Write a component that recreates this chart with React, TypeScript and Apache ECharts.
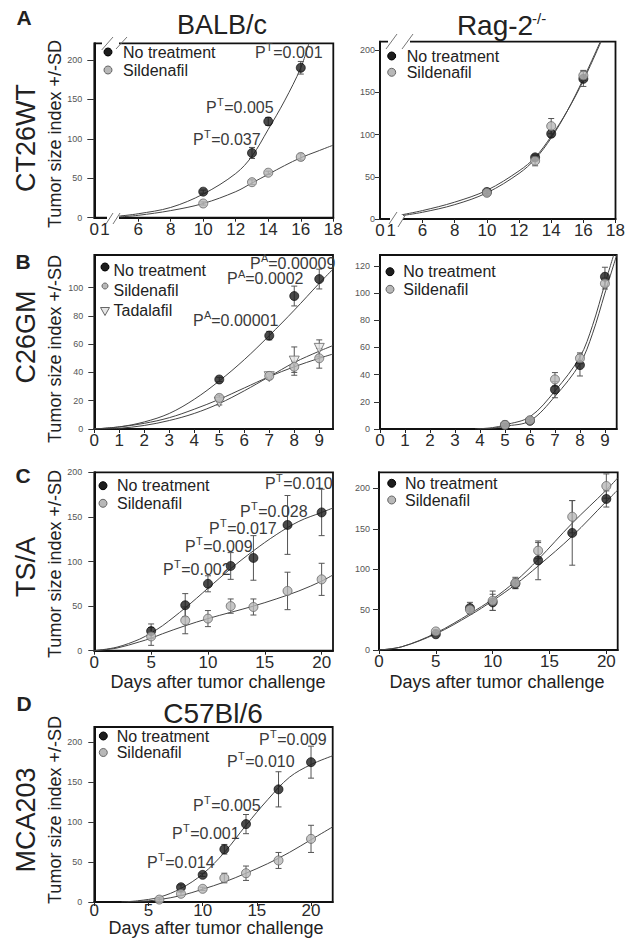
import React, { useEffect, useRef } from "react";
import * as echarts from "echarts";

const FONT = "'Liberation Sans', Arial, Helvetica, sans-serif";

/* ---------------- data ---------------- */
const groupNames = ["No treatment", "Sildenafil", "Tadalafil"];
const strainTitles = ["BALB/c", "Rag-2", "C57Bl/6"];
const tumorLines = ["CT26WT", "C26GM", "TS/A", "MCA203"];
const panelLetters = ["A", "B", "C", "D"];
const yTitle = "Tumor size index +/-SD";
const xTitle = "Days after tumor challenge";

/* Panel A: CT26WT */
const aDays = [10, 13, 14, 16];
const aBalbNoTreat = [33, 82, 122, 190];
const aBalbNoTreatSd = [2, 7, 5, 8];
const aBalbSild = [18, 45, 57, 77];
const aBalbSildSd = [2, 3, 2, 4];
const aBalbNoTreatFit = [[4.8, 2], [6, 5], [8, 13], [10, 30], [12, 56], [13, 78], [14, 112], [15, 148], [16, 190], [16.5, 221]];
const aBalbSildFit = [[4.9, 1], [6, 3], [8, 9], [10, 18], [12, 33], [13, 44], [14, 55], [15, 66], [16, 76], [17, 84], [18, 92]];
const aBalbP = ["0.001", "0.005", "0.037"];
const aRagNoTreat = [32, 73, 101, 166];
const aRagNoTreatSd = [2, 3, 4, 9];
const aRagSild = [31, 69, 110, 170];
const aRagSildSd = [3, 6, 9, 6];
const aRagFitA = [[4.7, 4], [6, 8], [8, 17], [10, 31], [12, 54], [13, 71], [14, 96], [15, 128], [16, 166], [17.1, 212]];
const aRagFitB = [[4.7, 5], [6, 10], [8, 20], [10, 34], [12, 57], [13, 73], [14, 98], [15, 128], [16, 164], [17.1, 210]];
const aXTicks = [6, 8, 10, 12, 14, 16, 18];
const aBreakLabels = ["0", "1"];
const aYTicks = [0, 50, 100, 150, 200];

/* Panel B: C26GM */
const bBalbDays = [5, 7, 8, 9];
const bBalbNoTreat = [35, 66, 94, 106];
const bBalbNoTreatSd = [1.5, 3, 7, 7];
const bBalbSild = [22, 37.5, 44, 50];
const bBalbSildSd = [2, 1.5, 4, 7];
const bBalbTad = [19, 37, 48, 57];
const bBalbTadSd = [2, 2, 10, 6];
const bBalbNoTreatFit = [[0, 0], [1, 1.5], [2, 5], [3, 11], [4, 21], [5, 34], [6, 49], [7, 66], [8, 84], [9, 103], [9.55, 113]];
const bBalbSildFit = [[0, 0], [1, 1.5], [2, 4], [3, 8], [4, 14], [5, 21], [6, 29], [7, 37], [8, 44], [9, 50], [9.55, 53]];
const bBalbTadFit = [[0, 0], [1, 0.5], [2, 2.5], [3, 6], [4, 11], [5, 18], [6, 27], [7, 37], [8, 47], [9, 55], [9.55, 59]];
const bBalbP = ["0.00009", "0.0002", "0.00001"];
const bRagDays = [5, 6, 7, 8, 9];
const bRagNoTreat = [3, 6, 29, 47, 112];
const bRagNoTreatSd = [1, 1, 6, 8, 7];
const bRagSild = [3, 6.5, 36.5, 52, 107];
const bRagSildSd = [1, 2, 5, 4, 4];
const bRagFitA = [[3.8, 0], [4.5, 1], [5, 3], [6, 9], [7, 28], [8, 53], [8.5, 76], [9, 107], [9.35, 128]];
const bRagFitB = [[3.9, 0], [4.5, 0.5], [5, 2], [6, 6], [7, 24], [8, 48], [8.5, 70], [9, 100], [9.47, 128]];
const bXTicks = [0, 1, 2, 3, 4, 5, 6, 7, 8, 9];
const bBalbYTicks = [0, 20, 40, 60, 80, 100];
const bRagYTicks = [0, 20, 40, 60, 80, 100, 120];

/* Panel C: TS/A */
const cDays = [5, 8, 10, 12, 14, 17, 20];
const cBalbNoTreat = [22, 51, 75, 95, 104, 141, 155];
const cBalbNoTreatSd = [8, 13, 9, 15, 25, 33, 26];
const cBalbSild = [16, 34, 36, 50, 49, 67, 80];
const cBalbSildSd = [10, 15, 9, 8, 9, 21, 18];
const cBalbNoTreatFit = [[0, 0], [2, 4], [4, 13], [5, 20], [6, 28], [8, 48], [10, 70], [12, 92], [14, 112], [16, 130], [18, 145], [20, 155], [21, 160]];
const cBalbSildFit = [[0, 0], [2, 3], [4, 10], [5, 14], [6, 19], [8, 28], [10, 36], [12, 43], [14, 50], [16, 58], [18, 67], [20, 78], [21, 85]];
const cBalbP = ["0.010", "0.028", "0.017", "0.009", "0.002"];
const cRagNoTreat = [19.5, 52, 59, 82, 111, 145, 187];
const cRagNoTreatSd = [2, 7, 10, 6, 24, 40, 10];
const cRagSild = [23, 50, 61, 83, 123, 165, 203];
const cRagSildSd = [2, 5, 12, 7, 10, 20, 15];
const cRagSildFit = [[0, 0], [2, 4], [5, 21], [8, 45], [10, 63], [12, 85], [14, 112], [17, 157], [20, 198], [21, 213]];
const cRagNoTreatFit = [[0, 0], [2, 4], [5, 20], [8, 43], [10, 61], [12, 81], [14, 104], [17, 141], [20, 184], [21, 198]];
const cXTicks = [0, 5, 10, 15, 20];
const cBalbYTicks = [0, 50, 100, 150, 200];
const cRagYTicks = [0, 50, 100, 150, 200];

/* Panel D: MCA203 */
const dNoTreatDays = [8, 10, 12, 14, 17, 20];
const dNoTreat = [18.5, 34, 66, 97.5, 141, 175];
const dNoTreatSd = [3, 2, 6, 12, 22, 20];
const dSildDays = [6, 8, 10, 12, 14, 17, 20];
const dSild = [3, 10.3, 16.5, 30, 36, 52, 79];
const dSildSd = [2, 2, 2, 6, 9, 10, 17];
const dNoTreatFit = [[2.5, 0], [4, 1.5], [6, 6], [8, 17], [10, 35], [12, 62], [14, 96], [16, 128], [18, 156], [20, 172], [22, 183]];
const dSildFit = [[3, 0], [5, 1.5], [6, 3], [8, 8], [10, 16], [12, 25], [14, 36], [16, 48], [18, 62], [20, 78], [22, 94]];
const dP = ["0.009", "0.010", "0.005", "0.001", "0.014"];
const dXTicks = [0, 5, 10, 15, 20];
const dYTicks = [0, 50, 100, 150, 200];

/* ---------------- helpers ---------------- */
const BLACK = { color: "#1d1d1d", borderColor: "#000", borderWidth: 0.8 };
const GRAY = { color: "#b8b8b8", borderColor: "#666", borderWidth: 1 };
const TRI = { color: "#e6e6e6", borderColor: "#666", borderWidth: 1 };

const pts = (xs: number[], ys: number[]) => xs.map((x, i) => [x, ys[i]]);
const bars = (xs: number[], ys: number[], sd: number[]) => xs.map((x, i) => [x, ys[i] - sd[i], ys[i] + sd[i]]);

function renderErr(_params: any, api: any) {
  const x = api.value(0);
  const lo = api.coord([x, api.value(1)]);
  const hi = api.coord([x, api.value(2)]);
  const w = 3;
  const st = { stroke: "#555", lineWidth: 1 };
  return {
    type: "group",
    children: [
      { type: "line", shape: { x1: lo[0], y1: lo[1], x2: hi[0], y2: hi[1] }, style: st },
      { type: "line", shape: { x1: lo[0] - w, y1: lo[1], x2: lo[0] + w, y2: lo[1] }, style: st },
      { type: "line", shape: { x1: hi[0] - w, y1: hi[1], x2: hi[0] + w, y2: hi[1] }, style: st },
    ],
  };
}

const fit = (i: number, data: number[][]) => ({
  type: "line", xAxisIndex: i, yAxisIndex: i, data, smooth: 0.35,
  showSymbol: false, symbol: "none", lineStyle: { color: "#444", width: 1 }, z: 2, silent: true, clip: true,
});
const err = (i: number, data: number[][]) => ({
  type: "custom", xAxisIndex: i, yAxisIndex: i, data, encode: { x: 0, y: [1, 2] },
  renderItem: renderErr, z: 3, silent: true,
});
const dots = (i: number, name: string, data: number[][], style: any, symbol = "circle", rotate = 0, size = 9) => ({
  type: "scatter", name, xAxisIndex: i, yAxisIndex: i, data, symbol, symbolRotate: rotate,
  symbolSize: size, itemStyle: style, z: 4, silent: true,
});

function xAx(i: number, min: number, max: number, labels: number[], ticks: number[], margin: number, fmt?: (v: number) => string) {
  return {
    gridIndex: i, type: "value", min, max,
    axisLine: { show: true, onZero: false, lineStyle: { color: "#111", width: 2 } },
    axisTick: { show: true, customValues: ticks, length: 4, lineStyle: { color: "#222", width: 1 } },
    axisLabel: { show: true, customValues: labels, formatter: fmt, fontSize: 17, lineHeight: 15, color: "#2a2a2a", fontFamily: FONT, margin },
    splitLine: { show: false },
  };
}
function yAx(i: number, max: number, ticks: number[], margin: number, tickLen: number) {
  return {
    gridIndex: i, type: "value", min: 0, max,
    axisLine: { show: true, lineStyle: { color: "#111", width: 2 } },
    axisTick: { show: true, customValues: ticks, length: tickLen, lineStyle: { color: "#333", width: 1 } },
    axisLabel: { show: true, customValues: ticks, fontSize: 9, color: "#555", fontFamily: FONT, margin },
    splitLine: { show: false },
  };
}

const txt = (x: number, y: number, text: string, size: number, extra: any = {}) => ({
  type: "text", x, y, z: 50, rotation: extra.rotation || 0,
  style: {
    text, fontSize: size, fontFamily: FONT, fill: extra.fill || "#222", fontWeight: extra.weight || "normal",
    lineHeight: Math.round(size * 0.85),
    align: extra.align || "center", verticalAlign: "middle",
  },
});
// "P" + raised small letter + "=value", laid out as three texts
const P_W = 16 * 0.667;
const SUP_W = 11 * 0.611;
const pText = (x: number, y: number, sup: string, val: string) => [
  txt(x, y, "P", 16, { align: "left", fill: "#3a3a3a" }),
  txt(x + P_W + 0.3, y - 5, sup, 11, { align: "left", fill: "#3a3a3a" }),
  txt(x + P_W + SUP_W + 0.8, y, "=" + val, 16, { align: "left", fill: "#3a3a3a" }),
];
function legendMark(cx: number, cy: number, kind: string, r = 4) {
  if (kind === "tri") {
    return { type: "polygon", z: 50, shape: { points: [[cx - 4.5, cy - 3.5], [cx + 4.5, cy - 3.5], [cx, cy + 4.5]] }, style: { fill: TRI.color, stroke: TRI.borderColor, lineWidth: 1 } };
  }
  const s = kind === "black" ? BLACK : GRAY;
  return { type: "circle", z: 50, shape: { cx, cy, r }, style: { fill: s.color, stroke: s.borderColor, lineWidth: 1 } };
}
const legendRow = (mx: number, my: number, tx: number, ty: number, kind: string, label: string, r = 4) => [
  legendMark(mx, my, kind, r),
  txt(tx, ty, label, 16, { align: "left" }),
];
const white = (x: number, y: number, w: number, h: number) => ({ type: "rect", z: 40, shape: { x, y, width: w, height: h }, style: { fill: "#fff" } });
const slash = (x1: number, y1: number, x2: number, y2: number) => ({ type: "line", z: 45, shape: { x1, y1, x2, y2 }, style: { stroke: "#777", lineWidth: 1 } });

/* ---------------- option ---------------- */
function buildOption() {
  const grids = [
    { left: 94.3, top: 43.3, width: 239, height: 174.4 },
    { left: 380, top: 41.7, width: 235.5, height: 177.3 },
    { left: 94.3, top: 255, width: 238.7, height: 174 },
    { left: 380, top: 255, width: 236.7, height: 174 },
    { left: 94.3, top: 472.3, width: 238.7, height: 178.4 },
    { left: 379, top: 472.3, width: 238.7, height: 177.7 },
    { left: 94.3, top: 727, width: 238.4, height: 175 },
  ].map((g) => ({ ...g, show: true, borderColor: "#111", borderWidth: 1.8, backgroundColor: "transparent", containLabel: false, outerBoundsMode: "none" }));

  const aFmtL = (v: number) => (v < 3.6 ? aBreakLabels[0] : v < 5 ? aBreakLabels[1] : String(v));
  const aFmtR = (v: number) => (v < 3.7 ? aBreakLabels[0] : v < 5 ? aBreakLabels[1] : String(v));

  const xAxis = [
    xAx(0, 3.3, 18, [3.3, 3.95, ...aXTicks], aXTicks, 4, aFmtL),
    xAx(1, 3.35, 18, [3.35, 4.05, ...aXTicks], aXTicks, 4, aFmtR),
    xAx(2, 0, 9.55, bXTicks, bXTicks, 4),
    xAx(3, 0, 9.47, bXTicks, bXTicks, 4),
    xAx(4, 0, 21, cXTicks, cXTicks, 4),
    xAx(5, 0, 21, cXTicks, cXTicks, 4),
    xAx(6, 0, 22, dXTicks, dXTicks, 1),
  ];
  const yAxis = [
    yAx(0, 221, aYTicks, 12, 7),
    yAx(1, 210, aYTicks, 5, 5),
    yAx(2, 123, bBalbYTicks, 11, 6),
    yAx(3, 128, bRagYTicks, 10, 6),
    yAx(4, 200, cBalbYTicks, 12, 6),
    yAx(5, 220, cRagYTicks, 9, 6),
    yAx(6, 219, dYTicks, 12, 6),
  ];

  const [NT, SIL, TAD] = groupNames;
  const series: any[] = [
    fit(0, aBalbNoTreatFit), fit(0, aBalbSildFit),
    err(0, bars(aDays, aBalbNoTreat, aBalbNoTreatSd)), err(0, bars(aDays, aBalbSild, aBalbSildSd)),
    dots(0, NT, pts(aDays, aBalbNoTreat), BLACK), dots(0, SIL, pts(aDays, aBalbSild), GRAY),
    fit(1, aRagFitA), fit(1, aRagFitB),
    err(1, bars(aDays, aRagNoTreat, aRagNoTreatSd)), err(1, bars(aDays, aRagSild, aRagSildSd)),
    dots(1, NT, pts(aDays, aRagNoTreat), BLACK), dots(1, SIL, pts(aDays, aRagSild), GRAY),
    fit(2, bBalbNoTreatFit), fit(2, bBalbSildFit), fit(2, bBalbTadFit),
    err(2, bars(bBalbDays, bBalbNoTreat, bBalbNoTreatSd)), err(2, bars(bBalbDays, bBalbSild, bBalbSildSd)), err(2, bars(bBalbDays, bBalbTad, bBalbTadSd)),
    dots(2, NT, pts(bBalbDays, bBalbNoTreat), BLACK), dots(2, TAD, pts(bBalbDays, bBalbTad), TRI, "triangle", 180, 10), dots(2, SIL, pts(bBalbDays, bBalbSild), GRAY),
    fit(3, bRagFitA), fit(3, bRagFitB),
    err(3, bars(bRagDays, bRagNoTreat, bRagNoTreatSd)), err(3, bars(bRagDays, bRagSild, bRagSildSd)),
    dots(3, NT, pts(bRagDays, bRagNoTreat), BLACK), dots(3, SIL, pts(bRagDays, bRagSild), GRAY),
    fit(4, cBalbNoTreatFit), fit(4, cBalbSildFit),
    err(4, bars(cDays, cBalbNoTreat, cBalbNoTreatSd)), err(4, bars(cDays, cBalbSild, cBalbSildSd)),
    dots(4, NT, pts(cDays, cBalbNoTreat), BLACK), dots(4, SIL, pts(cDays, cBalbSild), GRAY),
    fit(5, cRagSildFit), fit(5, cRagNoTreatFit),
    err(5, bars(cDays, cRagNoTreat, cRagNoTreatSd)), err(5, bars(cDays, cRagSild, cRagSildSd)),
    dots(5, NT, pts(cDays, cRagNoTreat), BLACK), dots(5, SIL, pts(cDays, cRagSild), GRAY),
    fit(6, dNoTreatFit), fit(6, dSildFit),
    err(6, bars(dNoTreatDays, dNoTreat, dNoTreatSd)), err(6, bars(dSildDays, dSild, dSildSd)),
    dots(6, NT, pts(dNoTreatDays, dNoTreat), BLACK), dots(6, SIL, pts(dSildDays, dSild), GRAY),
  ];

  const g: any[] = [
    txt(24, 17, panelLetters[0], 21, { weight: "bold" }),
    txt(23, 261, panelLetters[1], 21, { weight: "bold" }),
    txt(23, 475, panelLetters[2], 21, { weight: "bold" }),
    txt(24, 703, panelLetters[3], 21, { weight: "bold" }),
    txt(222, 25, strainTitles[0], 27),
    txt(495, 25, strainTitles[1], 28),
    txt(532, 18, "-/-", 15, { align: "left" }),
    txt(213, 713, strainTitles[2], 28),
    txt(26, 138, tumorLines[0], 27, { rotation: Math.PI / 2 }),
    txt(26, 337, tumorLines[1], 27, { rotation: Math.PI / 2 }),
    txt(26, 567, tumorLines[2], 27, { rotation: Math.PI / 2 }),
    txt(26, 820, tumorLines[3], 27, { rotation: Math.PI / 2 }),
    txt(55, 134, yTitle, 18, { rotation: Math.PI / 2 }),
    txt(55, 349, yTitle, 18, { rotation: Math.PI / 2 }),
    txt(55, 564, yTitle, 18, { rotation: Math.PI / 2 }),
    txt(55, 810, yTitle, 18, { rotation: Math.PI / 2 }),
    txt(218, 682, xTitle, 18),
    txt(497, 682, xTitle, 18),
    txt(216, 927.5, xTitle, 18),
    ...legendRow(108, 52, 123, 52, "black", groupNames[0]),
    ...legendRow(108, 70, 123, 70, "gray", groupNames[1]),
    ...legendRow(391.7, 56, 406.7, 56, "black", groupNames[0]),
    ...legendRow(391.7, 72.3, 406.7, 72.3, "gray", groupNames[1]),
    ...legendRow(105, 267, 113.5, 270.7, "black", groupNames[0]),
    ...legendRow(105, 286, 113.5, 290, "gray", groupNames[1], 3),
    ...legendRow(105, 311, 113.5, 310, "tri", groupNames[2]),
    ...legendRow(390, 271.7, 403.3, 271.7, "black", groupNames[0]),
    ...legendRow(390, 289.3, 403.3, 289.3, "gray", groupNames[1]),
    ...legendRow(103, 485.7, 117, 485.7, "black", groupNames[0]),
    ...legendRow(103, 503.3, 117, 503.3, "gray", groupNames[1]),
    ...legendRow(391.7, 483.3, 405, 483.3, "black", groupNames[0]),
    ...legendRow(391.7, 500, 405, 500, "gray", groupNames[1]),
    ...legendRow(103.3, 736, 116.7, 736, "black", groupNames[0]),
    ...legendRow(103.3, 752.5, 116.7, 752.5, "gray", groupNames[1]),
    ...pText(255, 52, "T", aBalbP[0]),
    ...pText(206, 107, "T", aBalbP[1]),
    ...pText(193, 139, "T", aBalbP[2]),
    ...pText(250, 263, "A", bBalbP[0]),
    ...pText(227, 278.5, "A", bBalbP[1]),
    ...pText(193, 320, "A", bBalbP[2]),
    ...pText(265, 483, "T", cBalbP[0]),
    ...pText(240, 511, "T", cBalbP[1]),
    ...pText(209, 528, "T", cBalbP[2]),
    ...pText(185, 546, "T", cBalbP[3]),
    ...pText(163, 569, "T", cBalbP[4]),
    ...pText(259, 739, "T", dP[0]),
    ...pText(227, 761, "T", dP[1]),
    ...pText(193, 805, "T", dP[2]),
    ...pText(172, 833, "T", dP[3]),
    ...pText(147, 862, "T", dP[4]),
    white(102, 40, 17, 6), slash(101.7, 50, 113, 37), slash(116, 49, 127, 37),
    white(107, 214, 12, 7), slash(106, 224, 113, 213), slash(113, 224, 120, 213),
    white(388, 38, 22, 7), slash(386, 49, 397, 34), slash(402, 49, 413, 34),
    white(390, 215, 13, 8), slash(389, 224, 397, 212), slash(398, 227, 406, 214),
  ];

  return {
    animation: false,
    backgroundColor: "#fff",
    textStyle: { fontFamily: FONT },
    grid: grids,
    xAxis,
    yAxis,
    series,
    graphic: { elements: g },
  };
}

export default function App() {
  const ref = useRef<HTMLDivElement>(null);
  useEffect(() => {
    document.body.style.margin = "0";
    const chart = echarts.init(ref.current!, null, { renderer: "svg" });
    chart.setOption(buildOption() as any);
    return () => chart.dispose();
  }, []);
  return <div ref={ref} style={{ width: 631, height: 938, background: "#fff" }} />;
}
